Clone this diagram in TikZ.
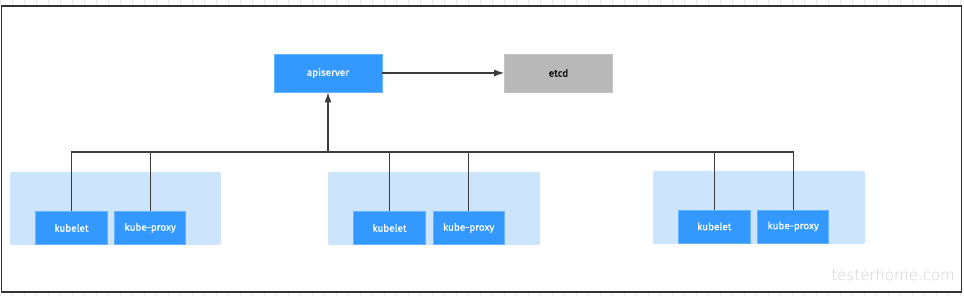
\documentclass[tikz,border=0pt]{standalone}
\usepackage{fontspec}
\setmainfont{Fira Sans}
\newfontfamily\lblfont[FakeBold=0.6]{Fira Sans}
\newfontfamily\wmfont{DejaVu Sans ExtraLight}
\usetikzlibrary{arrows.meta}
\definecolor{boxblue}{HTML}{3399FF}
\definecolor{boxedge}{HTML}{66B3FF}
\definecolor{grpblue}{HTML}{CCE4FC}
\definecolor{etcdgray}{HTML}{B8B8B8}
\definecolor{linegray}{HTML}{3C3C3C}
\definecolor{framegray}{HTML}{333333}
\tikzset{
  comp/.style={rectangle, fill=boxblue, draw=boxedge, line width=0.6pt, text=white,
    font=\lblfont\fontsize{10}{11}\selectfont, inner sep=0pt},
  store/.style={rectangle, fill=etcdgray, draw=etcdgray!85!white, line width=0.6pt, text=black,
    font=\lblfont\fontsize{10}{11}\selectfont, inner sep=0pt},
  group/.style={fill=grpblue, rounded corners=2pt},
  link/.style={draw=linegray, line width=1.3pt},
  arrow/.style={link, -{Latex[length=10pt,width=7pt]}},
}
\begin{document}
\begin{tikzpicture}[x=1pt,y=-1pt]
\useasboundingbox (0,0) rectangle (964,296);
% faint grid outside frame
\foreach \gx in {0,12,...,964} {
  \draw[gray!18, line width=0.4pt] (\gx,0) -- (\gx,5);
  \draw[gray!18, line width=0.4pt] (\gx,293) -- (\gx,296);
}
% frame
\draw[framegray, line width=1.5pt, fill=white] (1.5,6) rectangle (961.5,292);
% groups
\fill[group] (10,172) rectangle (221,245);
\fill[group] (328,172) rectangle (540,245);
\fill[group] (653,171) rectangle (865,244);
% nodes
\node[comp, minimum width=108pt, minimum height=38pt] (api) at (328,73) {apiserver};
\node[store, minimum width=108pt, minimum height=38pt] (etcd) at (558.5,73) {etcd};
\node[comp, minimum width=72pt, minimum height=33pt] (k1) at (71.5,228) {kubelet};
\node[comp, minimum width=71pt, minimum height=33pt] (p1) at (150.2,228) {kube-proxy};
\node[comp, minimum width=72pt, minimum height=33pt] (k2) at (389.5,228) {kubelet};
\node[comp, minimum width=71pt, minimum height=33pt] (p2) at (468.7,228) {kube-proxy};
\node[comp, minimum width=72pt, minimum height=33pt] (k3) at (714.3,226.5) {kubelet};
\node[comp, minimum width=71pt, minimum height=33pt] (p3) at (793.2,226.5) {kube-proxy};
% bus
\coordinate (bus) at (0,152);
\draw[link] (k1.north) -- (k1.north |- bus) -- (p3.north |- bus) -- (p3.north);
\draw[link] (p1.north) -- (p1.north |- bus);
\draw[link] (k2.north) -- (k2.north |- bus);
\draw[link] (p2.north) -- (p2.north |- bus);
\draw[link] (k3.north) -- (k3.north |- bus);
\draw[arrow] (api.south |- bus) -- (api.south);
\draw[arrow] (api.east) -- (etcd.west);
% watermark
\node[text=gray!35, font=\wmfont\fontsize{15}{15}\selectfont, anchor=west] (wm) at (828,275) {testerhome.com};
\end{tikzpicture}
\end{document}
